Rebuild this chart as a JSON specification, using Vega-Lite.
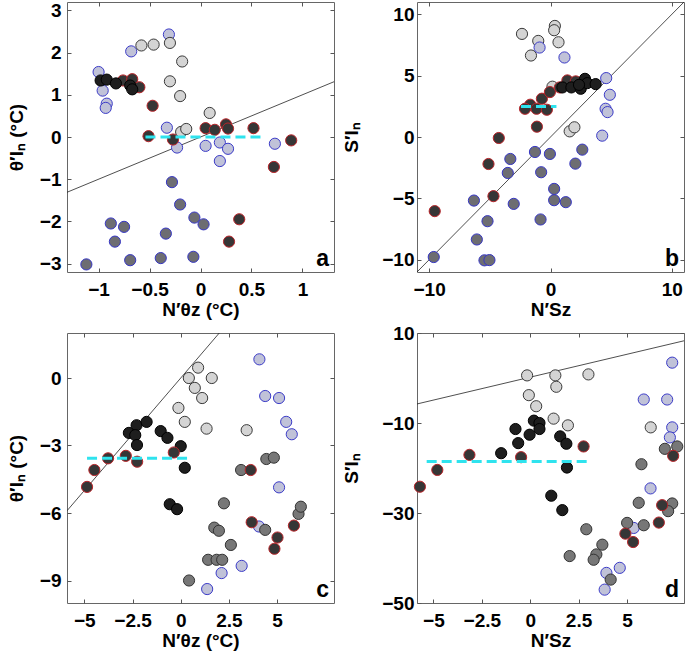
{
  "$schema": "https://vega.github.io/schema/vega-lite/v6.json",
  "padding": {"left": 6, "top": 0, "right": 0, "bottom": 0},
  "autosize": {"type": "pad"},
  "columns": 2,
  "spacing": {"row": 61, "column": 83},
  "bounds": "flush",
  "config": {
    "font": "Liberation Sans",
    "view": {"stroke": "#666", "strokeWidth": 1},
    "axis": {
      "grid": false, "domain": false, "tickColor": "#555", "tickSize": -4, "tickWidth": 1,
      "labelFont": "Liberation Sans", "labelFontSize": 19, "labelFontWeight": "bold", "labelColor": "#000",
      "titleFont": "Liberation Sans", "titleFontSize": 19, "titleFontWeight": "bold", "titleColor": "#000",
      "labelFlush": false, "labelOverlap": false, "labelBound": false, "format": ".2~r"
    },
    "axisX": {"labelPadding": 12, "titlePadding": 1},
    "axisY": {"labelPadding": 10, "titlePadding": 13}
  },
  "datasets": {
    "pa": [
      {"x": -1.0, "y": 1.54, "c": "lb"}, {"x": -0.96, "y": 1.10, "c": "lb"}, {"x": -0.92, "y": 0.79, "c": "lb"}, {"x": -0.93, "y": 0.69, "c": "lb"},
      {"x": -0.68, "y": 2.03, "c": "lb"}, {"x": -0.31, "y": 2.43, "c": "lb"}, {"x": -0.33, "y": 0.22, "c": "lb"}, {"x": -0.23, "y": -0.25, "c": "lb"},
      {"x": 0.05, "y": -0.21, "c": "lb"}, {"x": 0.19, "y": -0.13, "c": "lb"}, {"x": 0.27, "y": -0.28, "c": "lb"}, {"x": 0.19, "y": -0.57, "c": "lb"},
      {"x": 0.73, "y": -0.16, "c": "lb"},
      {"x": -0.58, "y": 2.17, "c": "lg"}, {"x": -0.46, "y": 2.19, "c": "lg"}, {"x": -0.30, "y": 2.23, "c": "lg"}, {"x": -0.18, "y": 1.79, "c": "lg"},
      {"x": -0.30, "y": 1.32, "c": "lg"}, {"x": -0.20, "y": 0.97, "c": "lg"}, {"x": 0.09, "y": 0.57, "c": "lg"}, {"x": -0.19, "y": 0.12, "c": "lg"},
      {"x": -0.14, "y": 0.19, "c": "lg"},
      {"x": -0.76, "y": 1.34, "c": "r"}, {"x": -0.67, "y": 1.37, "c": "r"}, {"x": -0.60, "y": 1.18, "c": "r"},
      {"x": -0.98, "y": 1.34, "c": "k"}, {"x": -0.92, "y": 1.36, "c": "k"}, {"x": -0.83, "y": 1.27, "c": "k"}, {"x": -0.69, "y": 1.22, "c": "k"},
      {"x": -0.67, "y": 1.13, "c": "k"},
      {"x": -0.47, "y": 0.74, "c": "r"}, {"x": -0.51, "y": 0.02, "c": "r"}, {"x": -0.27, "y": -0.06, "c": "r"}, {"x": 0.05, "y": 0.21, "c": "r"},
      {"x": 0.14, "y": 0.17, "c": "r"}, {"x": 0.25, "y": 0.30, "c": "r"}, {"x": 0.27, "y": 0.20, "c": "r"}, {"x": 0.52, "y": 0.21, "c": "r"},
      {"x": 0.89, "y": -0.08, "c": "r"}, {"x": 0.72, "y": -0.71, "c": "r"}, {"x": 0.38, "y": -1.95, "c": "r"}, {"x": 0.28, "y": -2.48, "c": "r"},
      {"x": -0.28, "y": -1.07, "c": "gb"}, {"x": -0.20, "y": -1.60, "c": "gb"}, {"x": -0.34, "y": -2.29, "c": "gb"}, {"x": -0.06, "y": -1.91, "c": "gb"},
      {"x": 0.03, "y": -2.07, "c": "gb"}, {"x": -0.88, "y": -2.05, "c": "gb"}, {"x": -0.75, "y": -2.13, "c": "gb"}, {"x": -0.84, "y": -2.48, "c": "gb"},
      {"x": -0.69, "y": -2.92, "c": "gb"}, {"x": -0.39, "y": -2.87, "c": "gb"}, {"x": -0.07, "y": -2.84, "c": "gb"}, {"x": -1.12, "y": -3.02, "c": "gb"}
    ],
    "pb": [
      {"x": -2.35, "y": 8.40, "c": "lg"}, {"x": 0.36, "y": 9.05, "c": "lg"}, {"x": 0.30, "y": 8.70, "c": "lg"}, {"x": -1.01, "y": 7.83, "c": "lg"},
      {"x": 0.66, "y": 7.72, "c": "lg"}, {"x": -1.61, "y": 6.64, "c": "lg"}, {"x": 0.16, "y": 4.10, "c": "lg"}, {"x": 1.58, "y": 0.46, "c": "lg"},
      {"x": 1.97, "y": 0.79, "c": "lg"},
      {"x": -0.90, "y": 7.29, "c": "lb"}, {"x": 1.15, "y": 6.48, "c": "lb"}, {"x": 4.59, "y": 4.80, "c": "lb"}, {"x": 4.89, "y": 3.44, "c": "lb"},
      {"x": 4.54, "y": 2.30, "c": "lb"}, {"x": 4.70, "y": 2.03, "c": "lb"}, {"x": 4.26, "y": 0.11, "c": "lb"},
      {"x": -1.67, "y": 2.63, "c": "r"}, {"x": -2.10, "y": 2.30, "c": "r"}, {"x": -1.15, "y": 2.30, "c": "r"}, {"x": -0.30, "y": 2.22, "c": "r"},
      {"x": -0.71, "y": 3.12, "c": "r"}, {"x": -0.05, "y": 3.66, "c": "r"}, {"x": 0.77, "y": 4.04, "c": "r"}, {"x": 1.39, "y": 4.61, "c": "r"},
      {"x": 2.08, "y": 4.53, "c": "r"}, {"x": -1.12, "y": 0.84, "c": "r"}, {"x": -4.26, "y": -0.08, "c": "r"}, {"x": -5.11, "y": -2.20, "c": "r"},
      {"x": -4.70, "y": -4.82, "c": "r"}, {"x": -9.54, "y": -6.04, "c": "r"},
      {"x": 0.98, "y": 4.04, "c": "k"}, {"x": 1.72, "y": 4.04, "c": "k"}, {"x": 2.49, "y": 3.93, "c": "k"}, {"x": 2.84, "y": 4.74, "c": "k"},
      {"x": 3.03, "y": 4.39, "c": "k"}, {"x": 2.35, "y": 4.25, "c": "k"}, {"x": 3.72, "y": 4.31, "c": "k"},
      {"x": -3.31, "y": -1.79, "c": "gb"}, {"x": -3.52, "y": -2.93, "c": "gb"}, {"x": -1.28, "y": -1.22, "c": "gb"}, {"x": -0.05, "y": -1.38, "c": "gb"},
      {"x": -0.77, "y": -2.87, "c": "gb"}, {"x": 2.62, "y": -1.03, "c": "gb"}, {"x": 2.05, "y": -2.17, "c": "gb"}, {"x": 0.30, "y": -4.23, "c": "gb"},
      {"x": 0.30, "y": -5.15, "c": "gb"}, {"x": 1.26, "y": -5.31, "c": "gb"}, {"x": -3.03, "y": -5.45, "c": "gb"}, {"x": -0.82, "y": -6.72, "c": "gb"},
      {"x": -6.31, "y": -5.18, "c": "gb"}, {"x": -5.19, "y": -6.86, "c": "gb"}, {"x": -6.07, "y": -8.35, "c": "gb"}, {"x": -5.44, "y": -10.05, "c": "gb"},
      {"x": -5.03, "y": -10.03, "c": "gb"}, {"x": -9.62, "y": -9.78, "c": "gb"}
    ],
    "pc": [
      {"x": 0.90, "y": 0.46, "c": "lg"}, {"x": 0.42, "y": 0.0, "c": "lg"}, {"x": 1.61, "y": 0.0, "c": "lg"}, {"x": 0.73, "y": -0.44, "c": "lg"},
      {"x": 1.11, "y": -0.89, "c": "lg"}, {"x": -0.12, "y": -1.33, "c": "lg"}, {"x": 0.21, "y": -1.95, "c": "lg"}, {"x": 1.34, "y": -2.25, "c": "lg"},
      {"x": 3.42, "y": -2.32, "c": "lg"},
      {"x": 4.08, "y": 0.83, "c": "lb"}, {"x": 4.38, "y": -0.80, "c": "lb"}, {"x": 5.10, "y": -0.89, "c": "lb"}, {"x": 5.47, "y": -1.95, "c": "lb"},
      {"x": 5.76, "y": -2.50, "c": "lb"}, {"x": 5.10, "y": -4.86, "c": "lb"}, {"x": 4.06, "y": -6.60, "c": "lb"}, {"x": 2.12, "y": -8.67, "c": "lb"},
      {"x": 3.16, "y": -8.35, "c": "lb"}, {"x": 1.37, "y": -9.38, "c": "lb"},
      {"x": -2.69, "y": -2.44, "c": "k"}, {"x": -2.29, "y": -2.10, "c": "k"}, {"x": -2.36, "y": -2.54, "c": "k"}, {"x": -2.27, "y": -2.98, "c": "k"},
      {"x": -1.77, "y": -1.95, "c": "k"}, {"x": -1.04, "y": -2.36, "c": "k"}, {"x": -0.69, "y": -2.66, "c": "k"}, {"x": 0.0, "y": -3.03, "c": "k"},
      {"x": 0.21, "y": -3.99, "c": "k"}, {"x": -0.57, "y": -5.61, "c": "k"}, {"x": -0.19, "y": -5.83, "c": "k"},
      {"x": -4.86, "y": -4.84, "c": "r"}, {"x": -4.48, "y": -4.09, "c": "r"}, {"x": -3.77, "y": -3.57, "c": "r"}, {"x": -2.85, "y": -3.46, "c": "r"},
      {"x": -2.26, "y": -3.72, "c": "r"}, {"x": -0.36, "y": -3.31, "c": "r"},
      {"x": 3.13, "y": -4.09, "c": "g"}, {"x": 4.44, "y": -3.60, "c": "g"}, {"x": 4.83, "y": -3.54, "c": "g"}, {"x": 2.24, "y": -5.57, "c": "g"},
      {"x": 1.74, "y": -6.65, "c": "g"}, {"x": 1.98, "y": -6.79, "c": "g"}, {"x": 4.38, "y": -6.75, "c": "g"}, {"x": 2.60, "y": -7.42, "c": "g"},
      {"x": 1.42, "y": -8.08, "c": "g"}, {"x": 1.86, "y": -8.08, "c": "g"}, {"x": 2.15, "y": -8.08, "c": "g"}, {"x": 0.43, "y": -9.00, "c": "g"},
      {"x": 6.11, "y": -6.04, "c": "g"}, {"x": 6.23, "y": -5.72, "c": "g"},
      {"x": 3.63, "y": -4.09, "c": "r"}, {"x": 3.68, "y": -6.41, "c": "r"}, {"x": 5.02, "y": -7.09, "c": "r"}, {"x": 4.86, "y": -7.59, "c": "r"},
      {"x": 5.87, "y": -6.56, "c": "r"}
    ],
    "pd": [
      {"x": -0.16, "y": 0.58, "c": "lg"}, {"x": 1.30, "y": 0.58, "c": "lg"}, {"x": 3.01, "y": 0.80, "c": "lg"}, {"x": 1.35, "y": -1.95, "c": "lg"},
      {"x": -0.07, "y": -3.81, "c": "lg"}, {"x": 0.31, "y": -6.27, "c": "lg"}, {"x": 1.21, "y": -9.03, "c": "lg"}, {"x": 1.95, "y": -10.52, "c": "lg"},
      {"x": 6.23, "y": -10.97, "c": "lg"},
      {"x": 7.34, "y": 3.41, "c": "lb"}, {"x": 5.87, "y": -4.78, "c": "lb"}, {"x": 7.08, "y": -4.78, "c": "lb"}, {"x": 7.34, "y": -10.97, "c": "lb"},
      {"x": 7.22, "y": -13.20, "c": "lb"}, {"x": 6.22, "y": -24.53, "c": "lb"}, {"x": 5.35, "y": -33.32, "c": "lb"}, {"x": 4.63, "y": -42.19, "c": "lb"},
      {"x": 3.94, "y": -43.31, "c": "lb"}, {"x": 3.85, "y": -47.03, "c": "lb"},
      {"x": 0.19, "y": -9.48, "c": "k"}, {"x": 0.48, "y": -10.0, "c": "k"}, {"x": 0.48, "y": -11.34, "c": "k"}, {"x": -0.03, "y": -12.60, "c": "k"},
      {"x": -0.76, "y": -11.34, "c": "k"}, {"x": -0.62, "y": -14.47, "c": "k"}, {"x": -1.50, "y": -16.71, "c": "k"}, {"x": 1.55, "y": -12.97, "c": "k"},
      {"x": 1.87, "y": -14.61, "c": "k"}, {"x": 1.90, "y": -19.90, "c": "k"}, {"x": 1.09, "y": -26.16, "c": "k"}, {"x": 1.66, "y": -29.36, "c": "k"},
      {"x": -5.70, "y": -24.16, "c": "r"}, {"x": -4.80, "y": -20.43, "c": "r"}, {"x": -3.14, "y": -17.08, "c": "r"}, {"x": -0.47, "y": -17.60, "c": "r"},
      {"x": 2.76, "y": -15.21, "c": "r"},
      {"x": 6.96, "y": -15.74, "c": "g"}, {"x": 7.60, "y": -15.21, "c": "g"}, {"x": 5.75, "y": -19.16, "c": "g"}, {"x": 5.61, "y": -27.73, "c": "g"},
      {"x": 7.34, "y": -27.88, "c": "g"}, {"x": 7.13, "y": -29.59, "c": "g"}, {"x": 5.87, "y": -32.72, "c": "g"}, {"x": 5.01, "y": -32.20, "c": "g"},
      {"x": 2.90, "y": -33.61, "c": "g"}, {"x": 3.73, "y": -37.04, "c": "g"}, {"x": 3.42, "y": -39.20, "c": "g"}, {"x": 3.28, "y": -40.39, "c": "g"},
      {"x": 2.04, "y": -39.57, "c": "g"}, {"x": 4.16, "y": -44.80, "c": "g"},
      {"x": 7.39, "y": -17.30, "c": "r"}, {"x": 6.82, "y": -28.26, "c": "r"}, {"x": 6.65, "y": -32.13, "c": "r"}, {"x": 4.92, "y": -34.59, "c": "r"},
      {"x": 5.32, "y": -36.45, "c": "r"}
    ],
    "la": [{"x": -1.31, "y": -1.31}, {"x": 1.31, "y": 1.31}],
    "lb": [{"x": -11, "y": -11}, {"x": 11, "y": 11}],
    "lc": [{"x": -5.9, "y": -5.9}, {"x": 2, "y": 2}],
    "ld": [{"x": -5.85, "y": -5.77}, {"x": 7.95, "y": 8.27}],
    "ca": [{"x": -0.54, "y": 0}, {"x": 0.63, "y": 0}],
    "cb": [{"x": -2.43, "y": 2.49}, {"x": 0.49, "y": 2.49}],
    "cc": [{"x": -4.86, "y": -3.57}, {"x": 0.56, "y": -3.57}],
    "cd": [{"x": -5.35, "y": -18.57}, {"x": 3.04, "y": -18.57}]
  },
  "concat": [
    {
      "width": 267, "height": 270,
      "resolve": {"axis": {"x": "independent", "y": "independent"}},
      "layer": [
        {"data": {"name": "la"}, "mark": {"type": "line", "color": "#222", "strokeWidth": 0.8, "clip": true},
         "encoding": {
           "x": {"field": "x", "type": "quantitative", "scale": {"domain": [-1.31, 1.31], "nice": false, "zero": false},
                 "axis": {"orient": "top", "labels": false, "title": null, "values": [-1, -0.5, 0, 0.5, 1]}},
           "y": {"field": "y", "type": "quantitative", "scale": {"domain": [-3.2, 3.2], "nice": false, "zero": false},
                 "axis": {"orient": "right", "labels": false, "title": null, "values": [-3, -2, -1, 0, 1, 2, 3]}}}},
        {"data": {"name": "pa"}, "mark": {"type": "circle", "size": 125, "strokeWidth": 1, "opacity": 1},
         "encoding": {
           "x": {"field": "x", "type": "quantitative", "axis": {"orient": "bottom", "title": "N′θz (°C)", "values": [-1, -0.5, 0, 0.5, 1]}},
           "y": {"field": "y", "type": "quantitative", "axis": {"orient": "left", "title": "θ′Iₙ (°C)", "values": [-3, -2, -1, 0, 1, 2, 3]}},
           "fill": {"field": "c", "type": "nominal", "legend": null, "scale": {"domain": ["lb", "lg", "k", "r", "gb", "g"], "range": ["#c0c2d8", "#d4d4d4", "#1e1e1e", "#363636", "#6d6d72", "#777777"]}},
           "stroke": {"field": "c", "type": "nominal", "legend": null, "scale": {"domain": ["lb", "lg", "k", "r", "gb", "g"], "range": ["#3c3cc8", "#3a3a3a", "#000000", "#b8252a", "#3636c4", "#333333"]}}}},
        {"data": {"name": "ca"}, "mark": {"type": "line", "color": "#2fe3ee", "strokeWidth": 3, "strokeDash": [10, 5]},
         "encoding": {"x": {"field": "x", "type": "quantitative", "axis": null}, "y": {"field": "y", "type": "quantitative", "axis": null}}},
        {"data": {"values": [{"t": "a"}]}, "mark": {"type": "text", "font": "Liberation Sans", "fontSize": 23, "fontWeight": "bold", "align": "right", "baseline": "bottom", "dx": -5, "dy": -1},
         "encoding": {"x": {"value": "width"}, "y": {"value": "height"}, "text": {"field": "t"}}}
      ]
    },
    {
      "width": 267, "height": 270,
      "resolve": {"axis": {"x": "independent", "y": "independent"}},
      "layer": [
        {"data": {"name": "lb"}, "mark": {"type": "line", "color": "#222", "strokeWidth": 0.8, "clip": true},
         "encoding": {
           "x": {"field": "x", "type": "quantitative", "scale": {"domain": [-11, 11], "nice": false, "zero": false},
                 "axis": {"orient": "top", "labels": false, "title": null, "values": [-10, 0, 10]}},
           "y": {"field": "y", "type": "quantitative", "scale": {"domain": [-11, 11], "nice": false, "zero": false},
                 "axis": {"orient": "right", "labels": false, "title": null, "values": [-10, -5, 0, 5, 10]}}}},
        {"data": {"name": "pb"}, "mark": {"type": "circle", "size": 125, "strokeWidth": 1, "opacity": 1},
         "encoding": {
           "x": {"field": "x", "type": "quantitative", "axis": {"orient": "bottom", "title": "N′Sz", "values": [-10, 0, 10]}},
           "y": {"field": "y", "type": "quantitative", "axis": {"orient": "left", "title": "S′Iₙ", "values": [-10, -5, 0, 5, 10], "labelPadding": 7, "titlePadding": 20}},
           "fill": {"field": "c", "type": "nominal", "legend": null, "scale": {"domain": ["lb", "lg", "k", "r", "gb", "g"], "range": ["#c0c2d8", "#d4d4d4", "#1e1e1e", "#363636", "#6d6d72", "#777777"]}},
           "stroke": {"field": "c", "type": "nominal", "legend": null, "scale": {"domain": ["lb", "lg", "k", "r", "gb", "g"], "range": ["#3c3cc8", "#3a3a3a", "#000000", "#b8252a", "#3636c4", "#333333"]}}}},
        {"data": {"name": "cb"}, "mark": {"type": "line", "color": "#2fe3ee", "strokeWidth": 3, "strokeDash": [10, 5]},
         "encoding": {"x": {"field": "x", "type": "quantitative", "axis": null}, "y": {"field": "y", "type": "quantitative", "axis": null}}},
        {"data": {"values": [{"t": "b"}]}, "mark": {"type": "text", "font": "Liberation Sans", "fontSize": 23, "fontWeight": "bold", "align": "right", "baseline": "bottom", "dx": -5, "dy": -1},
         "encoding": {"x": {"value": "width"}, "y": {"value": "height"}, "text": {"field": "t"}}}
      ]
    },
    {
      "width": 267, "height": 270,
      "resolve": {"axis": {"x": "independent", "y": "independent"}},
      "layer": [
        {"data": {"name": "lc"}, "mark": {"type": "line", "color": "#222", "strokeWidth": 0.8, "clip": true},
         "encoding": {
           "x": {"field": "x", "type": "quantitative", "scale": {"domain": [-5.9, 7.95], "nice": false, "zero": false},
                 "axis": {"orient": "top", "labels": false, "title": null, "values": [-5, -2.5, 0, 2.5, 5]}},
           "y": {"field": "y", "type": "quantitative", "scale": {"domain": [-10, 2], "nice": false, "zero": false},
                 "axis": {"orient": "right", "labels": false, "title": null, "values": [-9, -6, -3, 0]}}}},
        {"data": {"name": "pc"}, "mark": {"type": "circle", "size": 125, "strokeWidth": 1, "opacity": 1},
         "encoding": {
           "x": {"field": "x", "type": "quantitative", "axis": {"orient": "bottom", "title": "N′θz (°C)", "values": [-5, -2.5, 0, 2.5, 5]}},
           "y": {"field": "y", "type": "quantitative", "axis": {"orient": "left", "title": "θ′Iₙ (°C)", "values": [-9, -6, -3, 0]}},
           "fill": {"field": "c", "type": "nominal", "legend": null, "scale": {"domain": ["lb", "lg", "k", "r", "gb", "g"], "range": ["#c0c2d8", "#d4d4d4", "#262626", "#363636", "#6d6d72", "#777777"]}},
           "stroke": {"field": "c", "type": "nominal", "legend": null, "scale": {"domain": ["lb", "lg", "k", "r", "gb", "g"], "range": ["#3c3cc8", "#3a3a3a", "#000000", "#b8252a", "#3636c4", "#333333"]}}}},
        {"data": {"name": "cc"}, "mark": {"type": "line", "color": "#2fe3ee", "strokeWidth": 3, "strokeDash": [10, 5]},
         "encoding": {"x": {"field": "x", "type": "quantitative", "axis": null}, "y": {"field": "y", "type": "quantitative", "axis": null}}},
        {"data": {"values": [{"t": "c"}]}, "mark": {"type": "text", "font": "Liberation Sans", "fontSize": 23, "fontWeight": "bold", "align": "right", "baseline": "bottom", "dx": -5, "dy": -1},
         "encoding": {"x": {"value": "width"}, "y": {"value": "height"}, "text": {"field": "t"}}}
      ]
    },
    {
      "width": 267, "height": 270,
      "resolve": {"axis": {"x": "independent", "y": "independent"}},
      "layer": [
        {"data": {"name": "ld"}, "mark": {"type": "line", "color": "#222", "strokeWidth": 0.8, "clip": true},
         "encoding": {
           "x": {"field": "x", "type": "quantitative", "scale": {"domain": [-5.85, 7.95], "nice": false, "zero": false},
                 "axis": {"orient": "top", "labels": false, "title": null, "values": [-5, -2.5, 0, 2.5, 5]}},
           "y": {"field": "y", "type": "quantitative", "scale": {"domain": [-50, 10], "nice": false, "zero": false},
                 "axis": {"orient": "right", "labels": false, "title": null, "values": [-50, -30, -10, 10]}}}},
        {"data": {"name": "pd"}, "mark": {"type": "circle", "size": 125, "strokeWidth": 1, "opacity": 1},
         "encoding": {
           "x": {"field": "x", "type": "quantitative", "axis": {"orient": "bottom", "title": "N′Sz", "values": [-5, -2.5, 0, 2.5, 5]}},
           "y": {"field": "y", "type": "quantitative", "axis": {"orient": "left", "title": "S′Iₙ", "values": [-50, -30, -10, 10], "labelPadding": 7, "titlePadding": 20}},
           "fill": {"field": "c", "type": "nominal", "legend": null, "scale": {"domain": ["lb", "lg", "k", "r", "gb", "g"], "range": ["#c0c2d8", "#d4d4d4", "#262626", "#363636", "#6d6d72", "#777777"]}},
           "stroke": {"field": "c", "type": "nominal", "legend": null, "scale": {"domain": ["lb", "lg", "k", "r", "gb", "g"], "range": ["#3c3cc8", "#3a3a3a", "#000000", "#b8252a", "#3636c4", "#333333"]}}}},
        {"data": {"name": "cd"}, "mark": {"type": "line", "color": "#2fe3ee", "strokeWidth": 3, "strokeDash": [10, 5]},
         "encoding": {"x": {"field": "x", "type": "quantitative", "axis": null}, "y": {"field": "y", "type": "quantitative", "axis": null}}},
        {"data": {"values": [{"t": "d"}]}, "mark": {"type": "text", "font": "Liberation Sans", "fontSize": 23, "fontWeight": "bold", "align": "right", "baseline": "bottom", "dx": -5, "dy": -1},
         "encoding": {"x": {"value": "width"}, "y": {"value": "height"}, "text": {"field": "t"}}}
      ]
    }
  ]
}
